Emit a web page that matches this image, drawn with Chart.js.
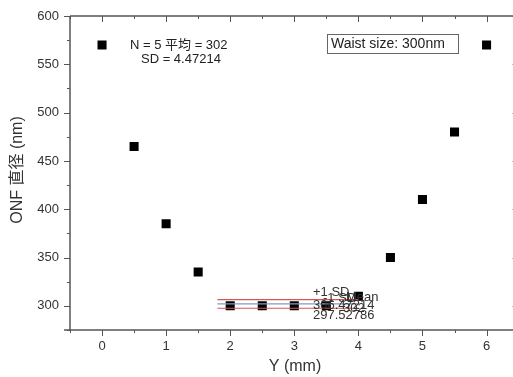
<!DOCTYPE html>
<html>
<head>
<meta charset="utf-8">
<script src="https://cdn.jsdelivr.net/npm/chart.js@4"></script>
<style>
  html, body { margin: 0; padding: 0; background: #fff; overflow: hidden; }
  #wrap { width: 525px; height: 377px; }
</style>
</head>
<body>
<div id="wrap"><canvas id="onfChart" width="525" height="377"></canvas></div>
<script>
// measured ONF diameter along the taper
const yPositions = [0, 0.5, 1, 1.5, 2, 2.5, 3, 3.5, 4, 4.5, 5, 5.5, 6];
const diameters = [570, 465, 385, 335, 300, 300, 300, 300, 310, 350, 410, 480, 570];

// statistics lines (mean and +/- 1 SD)
const statRange = [1.8, 4.0];
const meanValue = 302;
const plusSd = 306.47214;
const minusSd = 297.52786;

const xTicks = [0, 1, 2, 3, 4, 5, 6];
const yTicks = [300, 350, 400, 450, 500, 550, 600];

const axisColor = '#555';
const fontMixed = '"Liberation Sans", "Noto Sans CJK JP", sans-serif';

function hline(y, color) {
    return {
        data: statRange.map(x => ({ x: x, y: y })),
        showLine: true,
        borderColor: color,
        borderWidth: 1.2,
        pointRadius: 0
    };
}

// draws frame, ticks, tick labels and all text
const decorPlugin = {
    id: 'decor',
    afterDraw(chart) {
        const ctx = chart.ctx;
        const xs = chart.scales.x;
        const ys = chart.scales.y;
        const a = chart.chartArea;
        ctx.save();
        ctx.strokeStyle = axisColor;
        ctx.lineWidth = 1.5;
        ctx.beginPath();
        ctx.moveTo(a.left, a.top);
        ctx.lineTo(a.right, a.top);
        ctx.moveTo(a.left, a.top);
        ctx.lineTo(a.left, a.bottom);
        ctx.moveTo(a.left - 6, a.bottom);
        ctx.lineTo(a.right, a.bottom);
        ctx.moveTo(a.right, a.top);
        ctx.lineTo(a.right, a.bottom);
        ctx.stroke();

        ctx.lineWidth = 1;
        // x ticks (major + minor)
        for (let v = -0.5; v <= 6.5; v += 0.5) {
            const px = Math.round(xs.getPixelForValue(v)) + 0.5;
            const major = Number.isInteger(v);
            const len = major ? 6 : 3;
            ctx.beginPath();
            ctx.moveTo(px, a.bottom);
            ctx.lineTo(px, a.bottom + len);
            ctx.moveTo(px, a.top);
            ctx.lineTo(px, a.top + len);
            ctx.stroke();
        }
        // y ticks (major + minor)
        for (let v = 275; v <= 600; v += 25) {
            const py = Math.round(ys.getPixelForValue(v)) + 0.5;
            const major = v % 50 === 0;
            const len = major ? 6 : 3;
            ctx.beginPath();
            ctx.moveTo(a.left, py);
            ctx.lineTo(a.left - len, py);
            ctx.moveTo(a.right, py);
            ctx.lineTo(a.right - len, py);
            ctx.stroke();
        }

        ctx.fillStyle = '#333';
        ctx.font = '13px ' + fontMixed;
        ctx.textAlign = 'center';
        ctx.textBaseline = 'middle';
        xTicks.forEach(v => ctx.fillText(String(v), xs.getPixelForValue(v), a.bottom + 16));
        ctx.textAlign = 'right';
        yTicks.forEach(v => ctx.fillText(String(v), a.left - 11, ys.getPixelForValue(v)));

        // axis titles
        ctx.font = '16px ' + fontMixed;
        ctx.textAlign = 'center';
        ctx.fillText('Y (mm)', 295, 367);
        ctx.save();
        ctx.translate(18, 170);
        ctx.rotate(-Math.PI / 2);
        ctx.fillText('ONF 直径 (nm)', 0, 0);
        ctx.restore();

        // stats text
        ctx.font = '13px ' + fontMixed;
        ctx.fillStyle = '#222';
        ctx.textAlign = 'left';
        ctx.fillText('N = 5 平均 = 302', 130, 45);
        ctx.fillText('SD = 4.47214', 141, 59);

        // waist size box
        ctx.font = '14px ' + fontMixed;
        ctx.fillText('Waist size: 300nm', 331, 44);
        ctx.strokeStyle = '#666';
        ctx.lineWidth = 1;
        ctx.strokeRect(327.5, 34.5, 131, 19);

        // labels on the stat lines (overlapping, as in the original)
        ctx.font = '13px ' + fontMixed;
        ctx.fillStyle = '#333';
        ctx.textAlign = 'left';
        ctx.fillText('+1 SD', 313, ys.getPixelForValue(plusSd) - 7);
        ctx.fillText('-1 SD', 323, ys.getPixelForValue(minusSd) - 10);
        ctx.fillText('Mean', 346, ys.getPixelForValue(meanValue) - 6);
        ctx.fillText('306.47214', 313, ys.getPixelForValue(plusSd) + 6);
        ctx.fillText('302', 343, ys.getPixelForValue(meanValue) + 5);
        ctx.fillText('297.52786', 313, ys.getPixelForValue(minusSd) + 7);
        ctx.restore();
    }
};

const ctx = document.getElementById('onfChart').getContext('2d');
window.myChart = new Chart(ctx, {
    type: 'scatter',
    data: {
        datasets: [
            hline(plusSd, '#d9534f'),
            hline(meanValue, '#7f9cc6'),
            hline(minusSd, '#d9534f'),
            {
                label: 'ONF diameter',
                data: yPositions.map((x, i) => ({ x: x, y: diameters[i] })),
                pointStyle: 'rect',
                pointRadius: 6.4,
                backgroundColor: '#000',
                borderColor: '#000',
                borderWidth: 0
            }
        ]
    },
    options: {
        responsive: false,
        animation: false,
        layout: { padding: { left: 70, top: 16, right: 6, bottom: 47 } },
        plugins: { legend: { display: false }, tooltip: { enabled: false } },
        scales: {
            x: { type: 'linear', min: -0.5, max: 6.5, display: false },
            y: { type: 'linear', min: 275, max: 600, display: false }
        }
    },
    plugins: [decorPlugin]
});
</script>
</body>
</html>
